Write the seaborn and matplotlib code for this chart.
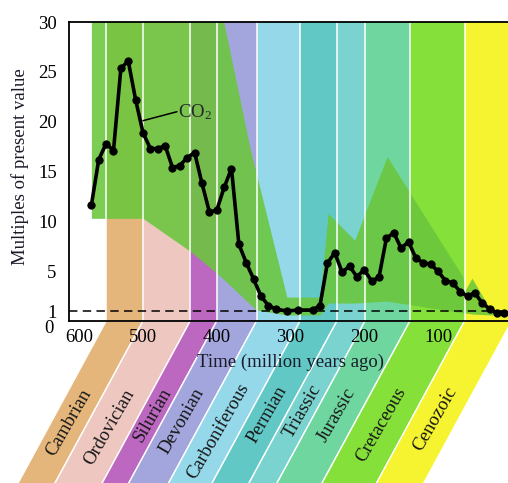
import numpy as np
import matplotlib
matplotlib.use("Agg")
import matplotlib.pyplot as plt
import matplotlib.transforms as mtransforms
from matplotlib.patches import Polygon
import seaborn as sns

# Atmospheric CO2 through the Phanerozoic, as multiples of the present value
age = [570, 560, 550, 540, 530, 520, 510, 500, 490, 480, 470, 460, 450, 440,
       430, 420, 410, 400, 390, 380, 370, 360, 350, 340, 330, 320, 305, 290,
       270, 260, 250, 240, 230, 220, 210, 200, 190, 180, 170, 160, 150, 140,
       130, 120, 110, 100, 90, 80, 70, 60, 50, 40, 30, 20, 10, 0]
co2 = [11.6, 16.2, 17.8, 17.1, 25.35, 26.1, 22.2, 18.9, 17.3, 17.3, 17.6, 15.4,
       15.6, 16.4, 16.9, 13.8, 10.95, 11.1, 13.4, 15.3, 7.7, 5.85, 4.2, 2.5,
       1.55, 1.2, 1.0, 1.1, 1.1, 1.55, 5.8, 6.85, 4.9, 5.5, 4.45, 5.15, 4.0,
       4.4, 8.3, 8.86, 7.3, 7.95, 6.3, 5.85, 5.7, 5.0, 4.05, 3.84, 2.94, 2.5,
       2.82, 1.78, 1.22, 0.8, 0.8, 0.8]

# Error envelope around the estimate
env_age = [570, 500, 436, 400, 391, 355, 346, 305, 260, 249, 213, 169, 66, 63, 54, 27, 20]
env_hi = [31, 31, 31, 31, 30.2, 17.4, 14.7, 2.4, 2.4, 10.8, 8.1, 16.5, 4.4, 3.1, 4.3, 0.9, 0.7]
env_lo = [10.3, 10.3, 7.0, 4.8, 4.2, 1.7, 1.1, 0.6, 0.6, 1.8, 1.8, 2.0, 0.8, 0.8, 0.7, 0.6, 0.7]

# Geological periods (million years ago)
periods = ["Cambrian", "Ordovician", "Silurian", "Devonian", "Carboniferous",
           "Permian", "Triassic", "Jurassic", "Cretaceous", "Cenozoic"]
period_start = [550, 500, 436, 400, 346, 287, 237, 199, 138, 64]
period_end = [500, 436, 400, 346, 287, 237, 199, 138, 64, 0]
period_colors = ["#E4B67B", "#EEC7C0", "#BC68C0", "#A3A6DC", "#94D8EA",
                 "#62C8C6", "#7AD3CF", "#6ED69E", "#86E03A", "#F6F431"]

xticks = [600, 500, 400, 300, 200, 100, 0]
yticks = [0, 1, 5, 10, 15, 20, 25, 30]

sns.set_theme(style="white")
plt.rcParams["font.family"] = ["Liberation Serif", "DejaVu Serif"]
plt.rcParams["mathtext.fontset"] = "custom"
plt.rcParams["mathtext.rm"] = "Liberation Serif"
plt.rcParams["mathtext.it"] = "Liberation Serif:italic"

FS = 13.5
fig = plt.figure(figsize=(5.08, 4.83), dpi=100)
ax = fig.add_axes([0.1363, 0.3354, 0.8711, 0.619])
ax.set_xlim(600, 0)
ax.set_ylim(0, 30)
ax.set_facecolor("white")

# vertical period bands
for s, e, c in zip(period_start, period_end, period_colors):
    ax.axvspan(e, s, color=c, lw=0, zorder=0)

# uncertainty envelope
ax.fill_between(env_age, env_lo, env_hi, color="#6AC63C", alpha=0.88, lw=0, zorder=1)

# thin white separators between periods
for b in period_start:
    ax.axvline(b, color="white", lw=1.1, zorder=2)

# present-day level
ax.axhline(1, color="black", lw=1.1, ls=(0, (5.5, 3.5)), zorder=3)

sns.lineplot(x=age, y=co2, ax=ax, color="black", lw=2.6, marker="o",
             markersize=5.2, markeredgecolor="black", zorder=5, sort=False)

ax.plot([500, 454], [20.1, 21.0], color="black", lw=1.1, zorder=5)
ax.text(452, 21.0, r"CO$_{\mathrm{2}}$", fontsize=FS, va="center", ha="left", zorder=6)

# axes styling
for side in ["left", "bottom", "top", "right"]:
    ax.spines[side].set_color("black")
    ax.spines[side].set_linewidth(1.3)
    ax.spines[side].set_zorder(6)

ax.set_xticks(xticks)
ax.set_xticklabels([str(t) for t in xticks], fontsize=FS)
ax.set_yticks(yticks)
ax.set_yticklabels([str(t) for t in yticks], fontsize=FS)
ax.tick_params(axis="x", direction="in", length=7, width=1.0, pad=6, colors="black")
ax.tick_params(axis="y", direction="out", length=7, width=1.0, pad=2, colors="black")
ax.yaxis.get_major_ticks()[0].tick1line.set_visible(False)

ax.set_xlabel("Time (million years ago)", fontsize=FS, color="#1a1a2a")
ax.xaxis.set_label_coords(0.499, -0.108)
ax.set_ylabel("Multiples of present value", fontsize=FS, color="#1a1a2a")
ax.yaxis.set_label_coords(-0.092, 0.515)

# nudge the corner labels
xl0 = ax.get_xticklabels()[0]
xl0.set_transform(xl0.get_transform() + mtransforms.ScaledTranslation(7 / 72, 0, fig.dpi_scale_trans))
yl0 = ax.get_yticklabels()[0]
yl0.set_transform(yl0.get_transform() + mtransforms.ScaledTranslation(-2 / 72, -4 / 72, fig.dpi_scale_trans))

# slanted period ribbons below the time axis with their names
fig.canvas.draw()
slant = 0.543
depth_max = 175
label_depth = [102, 106, 94, 100, 110, 94, 90, 94, 104, 98]
ident = mtransforms.IdentityTransform()


def to_px(a, depth):
    x0, y0 = ax.transData.transform((a, 0))
    return (x0 - slant * depth, y0 - depth)


for name, s, e, c, d in zip(periods, period_start, period_end, period_colors, label_depth):
    verts = [to_px(s, 0), to_px(e, 0), to_px(e, depth_max), to_px(s, depth_max)]
    poly = Polygon(verts, closed=True, facecolor=c, edgecolor="white", lw=1.0,
                   transform=ident, zorder=-2)
    fig.add_artist(poly)
    cx, cy = to_px((s + e) / 2, d)
    fig.text(cx, cy, name, transform=ident, rotation=60, rotation_mode="anchor",
             ha="center", va="center", fontsize=FS, color="#161616", zorder=-1)

fig.savefig("out.png", dpi=100)
